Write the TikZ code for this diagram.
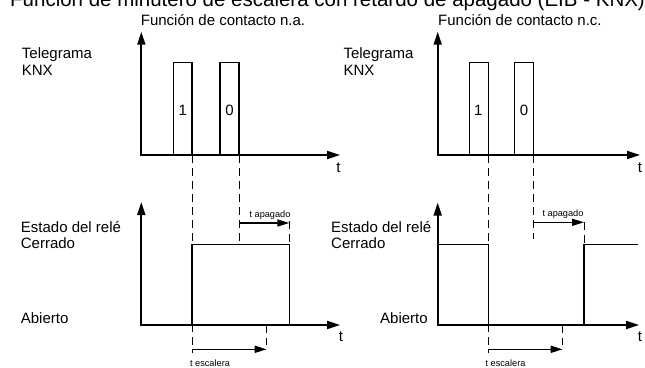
\documentclass[tikz,border=0pt]{standalone}
\usepackage{fontspec}
\setmainfont{Liberation Sans}
\usetikzlibrary{arrows.meta}
\begin{document}
\begin{tikzpicture}[x=1pt,y=-1pt,
  axis/.style={line width=1.8pt,{Triangle[length=13pt,width=8pt]}-{Triangle[length=13pt,width=8pt]}},
  signal/.style={line width=1.1pt},
  guide/.style={line width=0.9pt,dash pattern=on 8pt off 5pt},
  span/.style={line width=1.6pt,-{Triangle[length=12pt,width=7pt]}},
  lbl/.style={inner sep=0pt,font=\fontsize{15}{16.7}\selectfont},
  small/.style={inner sep=0pt,font=\fontsize{9.2}{10}\selectfont},
  ttl/.style={inner sep=0pt,font=\fontsize{20.5}{22}\selectfont},
]
\useasboundingbox (0,0) rectangle (645,367);

% titles
\node[ttl,anchor=base west] (title) at (10,6) {Función de minutero de escalera con retardo de apagado (EIB - KNX)};
\node[lbl,anchor=base west] (subL) at (140.7,25) {Función de contacto n.a.};
\node[lbl,anchor=base west] (subR) at (438,25) {Función de contacto n.c.};

% ---------------- left diagram ----------------
\node[lbl,anchor=west,align=left] (telL) at (21.7,61.7) {Telegrama\\KNX};
\node[lbl,anchor=west,align=left] (estL) at (20.7,235) {Estado del relé\\Cerrado};
\node[lbl,anchor=west] (abL) at (20.7,318.3) {Abierto};

\coordinate (LTo) at (141.3,155);
\coordinate (LTy) at (141.3,31.7);
\coordinate (LTx) at (340,155);
\coordinate (L1a) at (173.3,155);
\coordinate (L1b) at (173.3,62.5);
\coordinate (L1c) at (192,62.5);
\coordinate (L1d) at (192,155);
\coordinate (L0a) at (220,155);
\coordinate (L0b) at (220,62.5);
\coordinate (L0c) at (239,62.5);
\coordinate (L0d) at (239,155);

\coordinate (LBo) at (141.3,325);
\coordinate (LBy) at (141.3,202);
\coordinate (LBx) at (340,325);
\coordinate (LS1) at (192,325);
\coordinate (LS2) at (192,244.3);
\coordinate (LS3) at (289.3,244.3);
\coordinate (LS4) at (289.3,325);

\coordinate (LD1b) at (192,353);
\coordinate (LD2b) at (239,244.3);
\coordinate (LD3a) at (289.3,221);
\coordinate (LD4a) at (266.7,325);
\coordinate (LD4b) at (266.7,345);
\coordinate (LA1) at (239,223);
\coordinate (LA2) at (289.3,223);
\coordinate (LE1) at (192,349.3);
\coordinate (LE2) at (266.7,349.3);

\draw[guide] (L1d) -- (LD1b);
\draw[guide] (L0d) -- (LD2b);
\draw[guide] (LD3a) -- (LS3);
\draw[guide] (LD4a) -- (LD4b);

\draw[signal] (L1a) -- (L1b) -- (L1c) -- (L1d);
\draw[signal] (L0a) -- (L0b) -- (L0c) -- (L0d);
\draw[signal] (LS1) -- (LS2) -- (LS3) -- (LS4);
\draw[axis] (LTy) -- (LTo) -- (LTx);
\draw[axis] (LBy) -- (LBo) -- (LBx);
\draw[span] (LA1) -- (LA2);
\draw[span] (LE1) -- (LE2);

\node[lbl] (one L) at (182.7,110) {1};
\node[lbl] (zeroL) at (229.5,110) {0};
\node[lbl] (tTL) at (338.5,168) {t};
\node[lbl] (tBL) at (341,337) {t};
\node[small] (apL) at (270,215) {t apagado};
\node[small] (esL) at (210,363.3) {t escalera};

% ---------------- right diagram ----------------
\node[lbl,anchor=west,align=left] (telR) at (343.3,61.7) {Telegrama\\KNX};
\node[lbl,anchor=west,align=left] (estR) at (331,235) {Estado del relé\\Cerrado};
\node[lbl,anchor=west] (abR) at (380,318.3) {Abierto};

\coordinate (RTo) at (437.7,155);
\coordinate (RTy) at (437.7,31.7);
\coordinate (RTx) at (640,155);
\coordinate (R1a) at (469.3,155);
\coordinate (R1b) at (469.3,62.5);
\coordinate (R1c) at (488.3,62.5);
\coordinate (R1d) at (488.3,155);
\coordinate (R0a) at (514.3,155);
\coordinate (R0b) at (514.3,62.5);
\coordinate (R0c) at (533.3,62.5);
\coordinate (R0d) at (533.3,155);

\coordinate (RBo) at (437.7,325);
\coordinate (RBy) at (437.7,202.5);
\coordinate (RBx) at (639,325);
\coordinate (RS1) at (437.7,244.3);
\coordinate (RS2) at (488.3,244.3);
\coordinate (RS3) at (488.3,325);
\coordinate (RS4) at (584,325);
\coordinate (RS5) at (584,244.3);
\coordinate (RS6) at (637.5,244.3);

\coordinate (RD1b) at (488.3,353);
\coordinate (RD2b) at (533.3,239.3);
\coordinate (RD3a) at (584,222);
\coordinate (RD4a) at (562.7,325);
\coordinate (RD4b) at (562.7,345);
\coordinate (RA1) at (533.3,222.3);
\coordinate (RA2) at (584,222.3);
\coordinate (RE1) at (488.3,349.3);
\coordinate (RE2) at (562.7,349.3);

\draw[guide] (R1d) -- (RD1b);
\draw[guide] (R0d) -- (RD2b);
\draw[guide] (RD3a) -- (RS5);
\draw[guide] (RD4a) -- (RD4b);

\draw[signal] (R1a) -- (R1b) -- (R1c) -- (R1d);
\draw[signal] (R0a) -- (R0b) -- (R0c) -- (R0d);
\draw[signal] (RS1) -- (RS2) -- (RS3);
\draw[signal] (RS4) -- (RS5) -- (RS6);
\draw[axis] (RTy) -- (RTo) -- (RTx);
\draw[axis] (RBy) -- (RBo) -- (RBx);
\draw[span] (RA1) -- (RA2);
\draw[span] (RE1) -- (RE2);

\node[lbl] (oneR) at (478.3,110) {1};
\node[lbl] (zeroR) at (524,110) {0};
\node[lbl] (tTR) at (640,168) {t};
\node[lbl] (tBR) at (640,337) {t};
\node[small] (apR) at (563,214) {t apagado};
\node[small] (esR) at (505.5,363.3) {t escalera};
\end{tikzpicture}
\end{document}
